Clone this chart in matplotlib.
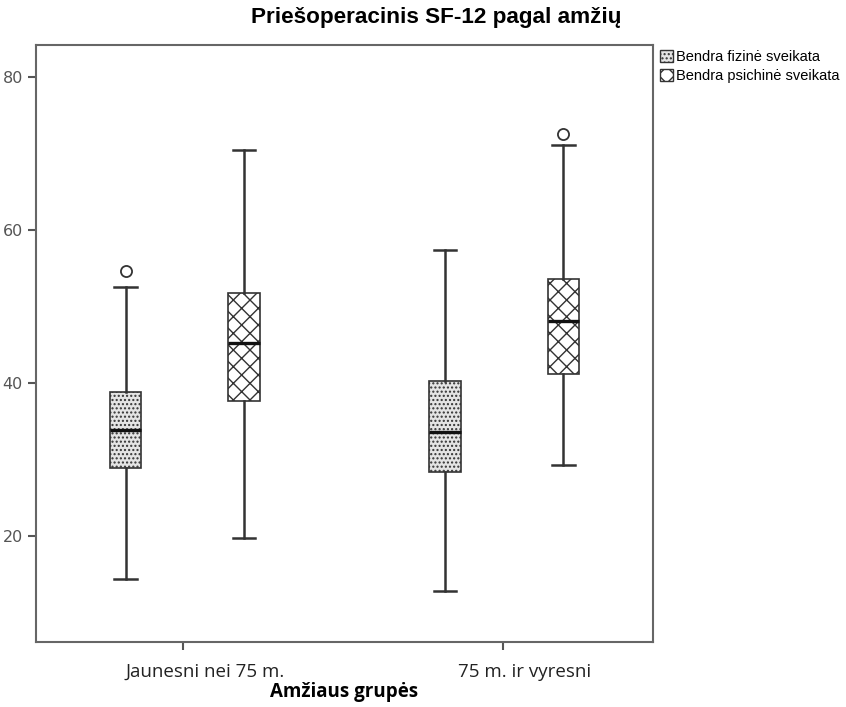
import matplotlib
matplotlib.use("Agg")
from matplotlib import pyplot as plt
from matplotlib.patches import Patch
from matplotlib.transforms import ScaledTranslation

plt.rcParams["hatch.linewidth"] = 1.0

groups = ["Jaunesni nei 75 m.", "75 m. ir vyresni"]
series = ["Bendra fizinė sveikata", "Bendra psichinė sveikata"]

# five-number summaries per group: [fizinė, psichinė]
whislo = [[14.4, 19.7], [12.8, 29.2]]
q1 = [[28.9, 37.6], [28.4, 41.2]]
med = [[33.8, 45.2], [33.6, 48.1]]
q3 = [[38.8, 51.8], [40.3, 53.6]]
whishi = [[52.6, 70.5], [57.4, 71.1]]
fliers = [[[54.6], []], [[], [72.5]]]

hatches = ["....", "xx"]
faces = ["#e4e4e4", "white"]
offsets = [-0.18, 0.19]

fig = plt.figure(figsize=(8.46, 7.07), dpi=100)
ax = fig.add_axes([36 / 846, 1 - 642 / 707, (653 - 36) / 846, (642 - 45) / 707])

for s in range(2):
    stats = []
    for g in range(2):
        stats.append(dict(whislo=whislo[g][s], q1=q1[g][s], med=med[g][s],
                          q3=q3[g][s], whishi=whishi[g][s], fliers=fliers[g][s]))
    pos = [g + offsets[s] for g in range(2)]
    bp = ax.bxp(stats, positions=pos, widths=0.1, patch_artist=True,
                showfliers=True,
                boxprops=dict(facecolor=faces[s], edgecolor="#333333", linewidth=1.2),
                whiskerprops=dict(color="#333333", linewidth=1.8),
                capprops=dict(color="#333333", linewidth=1.8),
                medianprops=dict(color="#111111", linewidth=2.4),
                flierprops=dict(marker="o", markerfacecolor="white",
                                markeredgecolor="#333333", markersize=8,
                                markeredgewidth=1.3))
    for b in bp["boxes"]:
        b.set_hatch(hatches[s])
    for c in bp["caps"]:
        x0, x1 = c.get_xdata()
        mid = (x0 + x1) / 2
        c.set_xdata([mid - 0.035, mid + 0.035])

ax.set_xlim(-0.46, 1.47)
ax.set_ylim(6.1, 84.2)
ax.set_yticks([20, 40, 60, 80])
ax.set_xticks([0, 1])
ax.set_xticklabels([])
# category labels sit a little right of their ticks
lbl_trans = ax.get_xaxis_transform() + ScaledTranslation(0.22, -0.21, fig.dpi_scale_trans)
for g, name in enumerate(groups):
    ax.text(g, 0, name, transform=lbl_trans, ha="center", va="top",
            fontsize=13.5, family="Open Sans", color="#222222")
ax.tick_params(axis="y", labelsize=11.5, labelcolor="#555555", color="#555555",
               length=6, width=1.5)
ax.tick_params(axis="x", length=6, width=1.5, color="#555555")
for sp in ax.spines.values():
    sp.set_color("#666666")
    sp.set_linewidth(1.5)

fig.text(344 / 846, 1 - 692 / 707, "Amžiaus grupės", ha="center", va="center",
         fontsize=13.5, fontweight="bold", family="Open Sans")
fig.text(436 / 846, 1 - 18 / 707, "Priešoperacinis SF-12 pagal amžių",
         ha="center", va="center", fontsize=16.2, fontweight="bold",
         family="Liberation Sans")

handles = [Patch(facecolor=f, edgecolor="#333333", hatch=h) for f, h in zip(faces, hatches)]
fig.legend(handles, series, loc="upper left", bbox_to_anchor=(654 / 846, 1 - 44 / 707),
           frameon=False, handlelength=0.9, handleheight=0.9,
           handletextpad=0.2, borderaxespad=0, labelspacing=0.35,
           prop=dict(family="Liberation Sans", size=10.5))

fig.savefig("out.png", dpi=100)
